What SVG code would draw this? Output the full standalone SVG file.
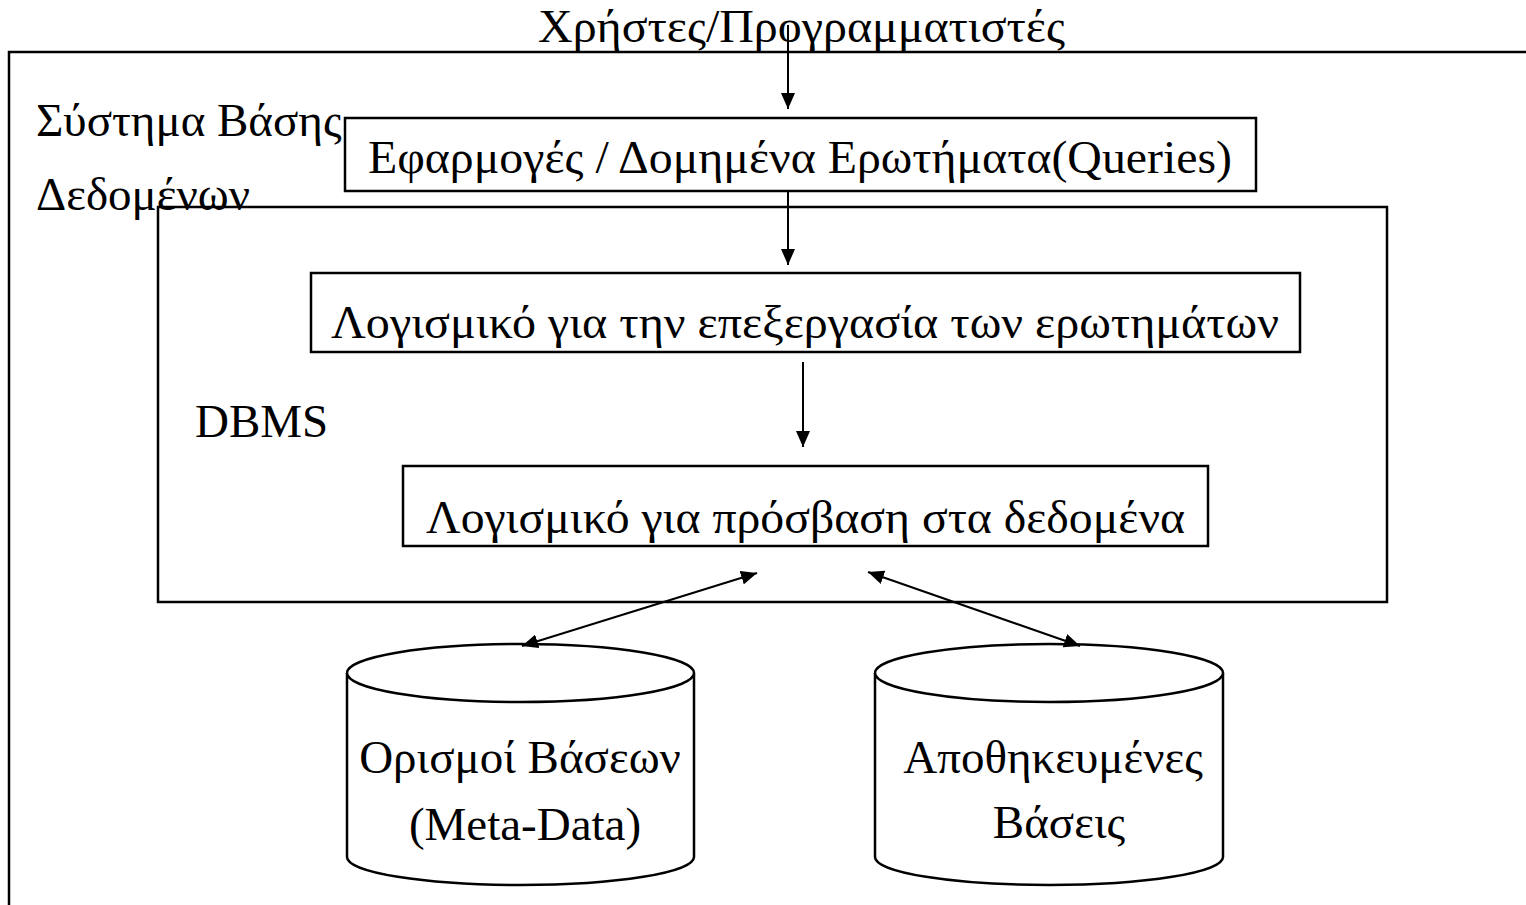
<svg xmlns="http://www.w3.org/2000/svg" width="1526" height="905" viewBox="0 0 1526 905">
<style>
  text { font-family: "Liberation Serif", "Times New Roman", serif; font-size: 47px; fill: #000; }
  .box { fill: #fff; stroke: #000; stroke-width: 2.5; }
  .frame { fill: none; stroke: #000; stroke-width: 2.5; }
  .conn { fill: none; stroke: #000; stroke-width: 2; }
  .cyl { fill: #fff; stroke: #000; stroke-width: 2.5; }
</style>
<defs>
  <marker id="ah" markerUnits="userSpaceOnUse" markerWidth="18" markerHeight="14" refX="16" refY="7" orient="auto">
    <path d="M0,0 L16,7 L0,14 Z" fill="#000"/>
  </marker>
  <marker id="ahs" markerUnits="userSpaceOnUse" markerWidth="18" markerHeight="14" refX="16" refY="7" orient="auto-start-reverse">
    <path d="M0,0 L16,7 L0,14 Z" fill="#000"/>
  </marker>
</defs>
<rect width="1526" height="905" fill="#fff"/>

<g id="system">
  <path class="frame" d="M9,905 L9,52 L1530,52"/>
  <text x="36" y="136">Σύστημα Βάσης</text>
  <text x="36" y="210">Δεδομένων</text>
</g>

<g id="users">
  <text x="538" y="42" textLength="527" lengthAdjust="spacingAndGlyphs">Χρήστες/Προγραμματιστές</text>
</g>

<g id="dbms">
  <rect class="frame" x="158" y="207" width="1229" height="395"/>
  <text x="195" y="437">DBMS</text>
</g>

<g id="applications">
  <rect class="box" x="345" y="118" width="911" height="73"/>
  <text x="368" y="173" textLength="864" lengthAdjust="spacingAndGlyphs">Εφαρμογές / Δομημένα Ερωτήματα(Queries)</text>
</g>

<g id="query-processing">
  <rect class="box" x="311" y="273" width="989" height="79"/>
  <text x="331" y="338" textLength="948" lengthAdjust="spacingAndGlyphs">Λογισμικό για την επεξεργασία των ερωτημάτων</text>
</g>

<g id="data-access">
  <rect class="box" x="403" y="466" width="805" height="80"/>
  <text x="426" y="533" textLength="759" lengthAdjust="spacingAndGlyphs">Λογισμικό για πρόσβαση στα δεδομένα</text>
</g>

<g id="metadata">
  <path class="cyl" d="M347,673 L347,857 A173.5,28 0 0 0 694,857 L694,673"/>
  <ellipse class="cyl" cx="520.5" cy="673" rx="173.5" ry="29"/>
  <text x="520" y="773" text-anchor="middle">Ορισμοί Βάσεων</text>
  <text x="525" y="840" text-anchor="middle">(Meta-Data)</text>
</g>

<g id="stored-db">
  <path class="cyl" d="M875,673 L875,857 A174,28 0 0 0 1223,857 L1223,673"/>
  <ellipse class="cyl" cx="1049" cy="673" rx="174" ry="29"/>
  <text x="1053" y="773" text-anchor="middle">Αποθηκευμένες</text>
  <text x="1059" y="838" text-anchor="middle">Βάσεις</text>
</g>

<g id="connectors">
  <line class="conn" x1="788" y1="25" x2="788" y2="109" marker-end="url(#ah)"/>
  <line class="conn" x1="788" y1="191" x2="788" y2="265" marker-end="url(#ah)"/>
  <line class="conn" x1="803" y1="362" x2="803" y2="447" marker-end="url(#ah)"/>
  <line class="conn" x1="522" y1="646" x2="757" y2="573" marker-start="url(#ahs)" marker-end="url(#ah)"/>
  <line class="conn" x1="868" y1="572" x2="1080" y2="646" marker-start="url(#ahs)" marker-end="url(#ah)"/>
</g>
</svg>
